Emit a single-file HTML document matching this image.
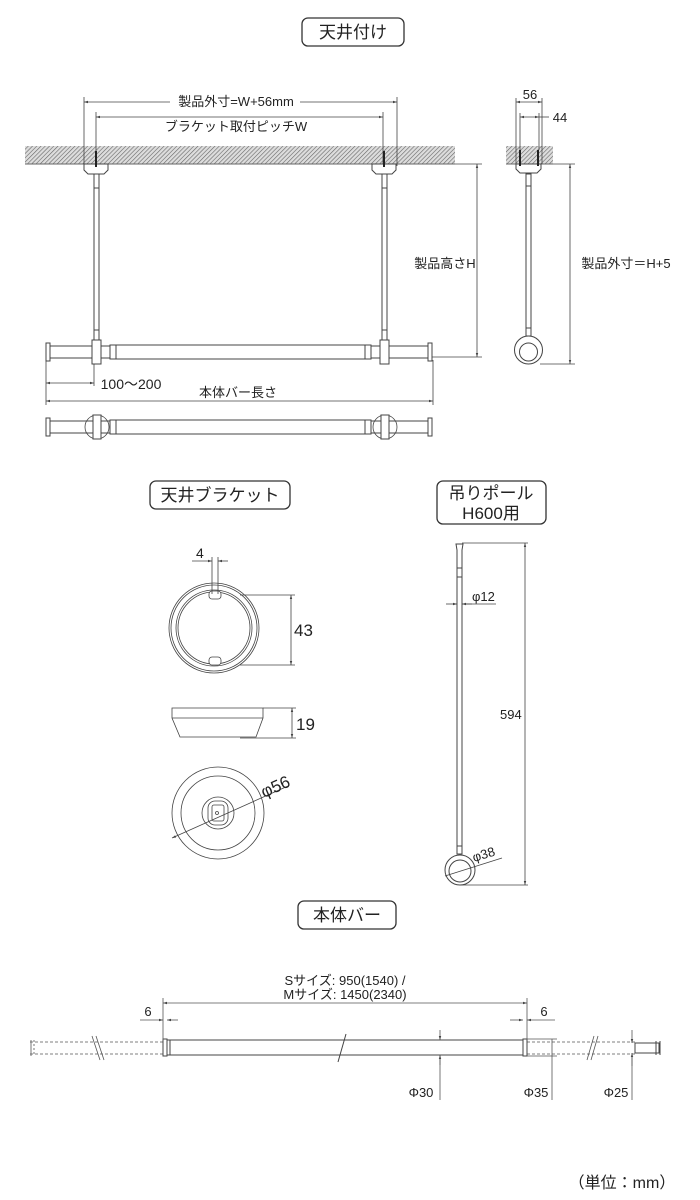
<!DOCTYPE html>
<html><head><meta charset="utf-8"><style>
html,body{margin:0;padding:0;background:#fff;}
svg{display:block;font-family:"Liberation Sans","Noto Sans CJK JP",sans-serif;}
</style></head><body>
<svg width="700" height="1200" viewBox="0 0 700 1200" xmlns="http://www.w3.org/2000/svg">
<defs>
<pattern id="h" width="3" height="3" patternUnits="userSpaceOnUse" patternTransform="rotate(45)">
<rect width="3" height="3" fill="#ddd"/><line x1="0" y1="0" x2="0" y2="3" stroke="#666" stroke-width="1.2"/></pattern>
<marker id="a" viewBox="0 0 10 10" refX="10" refY="5" markerWidth="5" markerHeight="5" orient="auto-start-reverse"><path d="M0,2L10,5L0,8z" fill="#444"/></marker>
</defs>
<g fill="none" stroke="#333" stroke-width="1">
<rect x="302" y="18" width="102" height="28" rx="6" stroke-width="1.3"/>
<rect x="150" y="481" width="140" height="28" rx="6" stroke-width="1.3"/>
<rect x="437" y="481" width="109" height="43" rx="6" stroke-width="1.3"/>
<rect x="298" y="901" width="98" height="28" rx="6" stroke-width="1.3"/>
</g>
<g font-size="17" fill="#222" text-anchor="middle">
<text x="353" y="38">天井付け</text>
<text x="220" y="501">天井ブラケット</text>
<text x="491" y="499">吊りポール</text>
<text x="491" y="519">H600用</text>
<text x="347" y="921">本体バー</text>
<text x="622" y="1188" font-size="16">（単位：mm）</text>
</g>
<rect x="25" y="146" width="430" height="18" fill="url(#h)"/>
<line x1="25" y1="164" x2="455" y2="164" stroke="#666"/>
<rect x="506" y="146" width="47" height="18" fill="url(#h)"/>
<line x1="506" y1="164" x2="553" y2="164" stroke="#666"/>
<g stroke="#444" fill="none" stroke-width="0.8">
<line x1="84" y1="102" x2="397" y2="102" marker-start="url(#a)" marker-end="url(#a)"/>
<line x1="96" y1="117" x2="383" y2="117" marker-start="url(#a)" marker-end="url(#a)"/>
<line x1="84" y1="97" x2="84" y2="166"/><line x1="397" y1="97" x2="397" y2="166"/>
<line x1="96" y1="112" x2="96" y2="166"/><line x1="383" y1="112" x2="383" y2="166"/>
<line x1="455" y1="164" x2="482" y2="164"/><line x1="432" y1="357" x2="482" y2="357"/>
<line x1="477" y1="164" x2="477" y2="357" marker-start="url(#a)" marker-end="url(#a)"/>
<line x1="46" y1="360" x2="46" y2="405"/><line x1="94" y1="360" x2="94" y2="386"/>
<line x1="46" y1="383" x2="94" y2="383" marker-start="url(#a)" marker-end="url(#a)"/>
<line x1="433" y1="360" x2="433" y2="405"/>
<line x1="46" y1="401" x2="433" y2="401" marker-start="url(#a)" marker-end="url(#a)"/>
</g>
<g font-size="13" fill="#222" text-anchor="middle">
<rect x="170" y="93" width="130" height="16" fill="#fff"/>
<text x="236" y="106">製品外寸=W+56mm</text>
<text x="236" y="131">ブラケット取付ピッチW</text>
<text x="445" y="268">製品高さH</text>
<text x="131" y="389" font-size="14">100〜200</text>
<text x="238" y="397">本体バー長さ</text>
<text x="626" y="268">製品外寸＝H+5</text>
</g>
<g stroke="#444" fill="#fff" stroke-width="1">
<path d="M84,164 H108 V170 L104,174 H88 L84,170Z"/>
<path d="M372,164 H396 V170 L392,174 H376 L372,170Z"/>
<rect x="94" y="174" width="5" height="180"/>
<rect x="382" y="174" width="5" height="180"/>
<line x1="94" y1="188" x2="99" y2="188"/><line x1="382" y1="188" x2="387" y2="188"/>
<line x1="94" y1="330" x2="99" y2="330"/><line x1="382" y1="330" x2="387" y2="330"/>
</g>
<line x1="96" y1="151" x2="96" y2="167" stroke="#222" stroke-width="2"/>
<line x1="384" y1="151" x2="384" y2="167" stroke="#222" stroke-width="2"/>
<g stroke="#444" fill="#fff" stroke-width="1">
<rect x="50" y="346" width="382" height="12"/>
<rect x="110" y="345" width="261" height="14"/>
<line x1="116" y1="345" x2="116" y2="359"/><line x1="365" y1="345" x2="365" y2="359"/>
<path d="M46,343 h4 v18 h-4z"/><path d="M428,343 h4 v18 h-4z"/>
<rect x="92" y="340" width="9" height="24"/><rect x="380" y="340" width="9" height="24"/>
<rect x="50" y="421" width="382" height="12"/>
<rect x="110" y="420" width="261" height="14"/>
<line x1="116" y1="420" x2="116" y2="434"/><line x1="365" y1="420" x2="365" y2="434"/>
<path d="M46,418 h4 v18 h-4z"/><path d="M428,418 h4 v18 h-4z"/>
<circle cx="97" cy="427" r="12" fill="none" stroke-width="0.8"/><circle cx="385" cy="427" r="12" fill="none" stroke-width="0.8"/>
<rect x="93" y="415" width="8" height="24"/><rect x="381" y="415" width="8" height="24"/>
</g>
<g stroke="#444" fill="#fff" stroke-width="1">
<path d="M516,164 H541 V169 L537,173 H520 L516,169Z"/>
<rect x="526" y="174" width="5" height="162"/>
<line x1="526" y1="186" x2="531" y2="186"/><line x1="526" y1="328" x2="531" y2="328"/>
<circle cx="528.5" cy="350" r="14"/><circle cx="528.5" cy="352" r="9"/>
</g>
<line x1="520" y1="150" x2="520" y2="166" stroke="#222" stroke-width="2"/>
<line x1="538" y1="150" x2="538" y2="166" stroke="#222" stroke-width="2"/>
<g stroke="#444" fill="none" stroke-width="0.8">
<line x1="516" y1="98" x2="516" y2="164"/><line x1="542" y1="98" x2="542" y2="164"/>
<line x1="520" y1="113" x2="520" y2="150"/><line x1="539" y1="113" x2="539" y2="150"/>
<line x1="516" y1="102" x2="542" y2="102" marker-start="url(#a)" marker-end="url(#a)"/>
<line x1="520" y1="117" x2="539" y2="117" marker-start="url(#a)" marker-end="url(#a)"/>
<line x1="539" y1="117" x2="549" y2="117"/>
<line x1="553" y1="164" x2="575" y2="164"/><line x1="540" y1="364" x2="575" y2="364"/>
<line x1="570" y1="164" x2="570" y2="364" marker-start="url(#a)" marker-end="url(#a)"/>
</g>
<g font-size="13" fill="#222" text-anchor="middle">
<text x="530" y="99">56</text><text x="560" y="122">44</text>
</g>
<g stroke="#444" fill="#fff" stroke-width="0.8">
<circle cx="214" cy="628" r="45"/><circle cx="214" cy="628" r="43"/>
<circle cx="214" cy="628" r="38"/><circle cx="214" cy="628" r="36"/>
<rect x="209" y="591" width="12" height="8" rx="3"/><rect x="209" y="657" width="12" height="8" rx="3"/>
<path d="M172,708 H263 V718 L256,737 H180 L172,718Z"/>
<line x1="172" y1="718" x2="263" y2="718"/>
<circle cx="218" cy="813" r="46"/><circle cx="218" cy="813" r="37"/>
<circle cx="218" cy="813" r="16"/><rect x="208" y="801" width="20" height="24" rx="7"/>
<rect x="212" y="805" width="12" height="16" rx="2"/>
<circle cx="217" cy="813" r="1.5"/>
</g>
<g stroke="#444" fill="none" stroke-width="0.8">
<line x1="212" y1="557" x2="212" y2="594"/><line x1="218" y1="557" x2="218" y2="594"/>
<line x1="192" y1="561" x2="212" y2="561" marker-end="url(#a)"/>
<line x1="228" y1="561" x2="218" y2="561" marker-end="url(#a)"/>
<line x1="240" y1="595" x2="295" y2="595"/><line x1="240" y1="665" x2="295" y2="665"/>
<line x1="291" y1="595" x2="291" y2="665" marker-start="url(#a)" marker-end="url(#a)"/>
<line x1="263" y1="708" x2="296" y2="708"/><line x1="240" y1="738" x2="296" y2="738"/>
<line x1="292" y1="708" x2="292" y2="738" marker-start="url(#a)" marker-end="url(#a)"/>
<line x1="172" y1="838" x2="288" y2="786" marker-start="url(#a)"/>
</g>
<g font-size="17" fill="#222">
<text x="196" y="558" font-size="14">4</text>
<text x="294" y="636">43</text>
<text x="296" y="730">19</text>
<text x="264" y="798" transform="rotate(-24 264 798)">φ56</text>
</g>
<g stroke="#444" fill="#fff" stroke-width="1">
<path d="M456,544 H463 L462,550 V568 H457 V550Z"/>
<rect x="457" y="568" width="5" height="286"/>
<line x1="457" y1="577" x2="462" y2="577"/><line x1="457" y1="846" x2="462" y2="846"/>
<circle cx="460" cy="870" r="15"/><circle cx="460" cy="871" r="11"/>
</g>
<g stroke="#444" fill="none" stroke-width="0.8">
<line x1="462" y1="543" x2="528" y2="543"/><line x1="460" y1="885" x2="528" y2="885"/>
<line x1="525" y1="543" x2="525" y2="885" marker-start="url(#a)" marker-end="url(#a)"/>
<line x1="446" y1="604" x2="457" y2="604" marker-end="url(#a)"/>
<line x1="472" y1="604" x2="462" y2="604" marker-end="url(#a)"/>
<line x1="462" y1="604" x2="496" y2="604"/>
<line x1="445" y1="876" x2="502" y2="858"/>
</g>
<g font-size="13" fill="#222">
<text x="472" y="601">φ12</text>
<text x="500" y="719">594</text>
<text x="474" y="862" transform="rotate(-17 474 862)">φ38</text>
</g>
<g stroke="#555" fill="none" stroke-width="0.8">
<line x1="30" y1="1042" x2="163" y2="1042" stroke-dasharray="3,2"/>
<line x1="30" y1="1054" x2="163" y2="1054" stroke-dasharray="3,2"/>
<line x1="31" y1="1040" x2="31" y2="1056"/><line x1="34" y1="1040" x2="34" y2="1056" stroke-dasharray="2,2"/>
<line x1="92" y1="1036" x2="100" y2="1060"/><line x1="96" y1="1036" x2="104" y2="1060"/>
<line x1="527" y1="1042" x2="635" y2="1042" stroke-dasharray="3,2"/>
<line x1="527" y1="1054" x2="635" y2="1054" stroke-dasharray="3,2"/>
<line x1="587" y1="1060" x2="594" y2="1036"/><line x1="591" y1="1060" x2="598" y2="1036"/>
</g>
<g stroke="#444" fill="#fff" stroke-width="1">
<rect x="163" y="1040" width="364" height="15"/>
<rect x="163" y="1039" width="4" height="17"/><rect x="523" y="1039" width="4" height="17"/>
<line x1="170" y1="1040" x2="170" y2="1055"/>
<rect x="635" y="1043" width="24" height="10"/>
<line x1="656" y1="1041" x2="656" y2="1055"/><line x1="660" y1="1041" x2="660" y2="1055"/>
<line x1="338" y1="1062" x2="346" y2="1034"/>
</g>
<g stroke="#555" fill="none" stroke-width="0.8">
<line x1="163" y1="998" x2="163" y2="1040"/><line x1="527" y1="998" x2="527" y2="1040"/>
<line x1="163" y1="1003" x2="527" y2="1003" marker-start="url(#a)" marker-end="url(#a)"/>
<line x1="140" y1="1020" x2="163" y2="1020" marker-end="url(#a)"/>
<line x1="178" y1="1020" x2="167" y2="1020" marker-end="url(#a)"/>
<line x1="510" y1="1020" x2="523" y2="1020" marker-end="url(#a)"/>
<line x1="555" y1="1020" x2="527" y2="1020" marker-end="url(#a)"/>
<line x1="440" y1="1030" x2="440" y2="1040" marker-end="url(#a)"/>
<line x1="440" y1="1065" x2="440" y2="1055" marker-end="url(#a)"/>
<line x1="440" y1="1055" x2="440" y2="1100"/>
<line x1="527" y1="1039" x2="557" y2="1039"/><line x1="527" y1="1056" x2="557" y2="1056"/>
<line x1="552" y1="1039" x2="552" y2="1100"/>
<line x1="632" y1="1030" x2="632" y2="1043" marker-end="url(#a)"/>
<line x1="632" y1="1066" x2="632" y2="1053" marker-end="url(#a)"/>
<line x1="632" y1="1053" x2="632" y2="1100"/>
</g>
<g font-size="13" fill="#222" text-anchor="middle">
<text x="345" y="985">Sサイズ: 950(1540) /</text>
<text x="345" y="999">Mサイズ: 1450(2340)</text>
<text x="148" y="1016">6</text>
<text x="544" y="1016">6</text>
<text x="421" y="1097">Φ30</text>
<text x="536" y="1097">Φ35</text>
<text x="616" y="1097">Φ25</text>
</g>
</svg>
</body></html>
